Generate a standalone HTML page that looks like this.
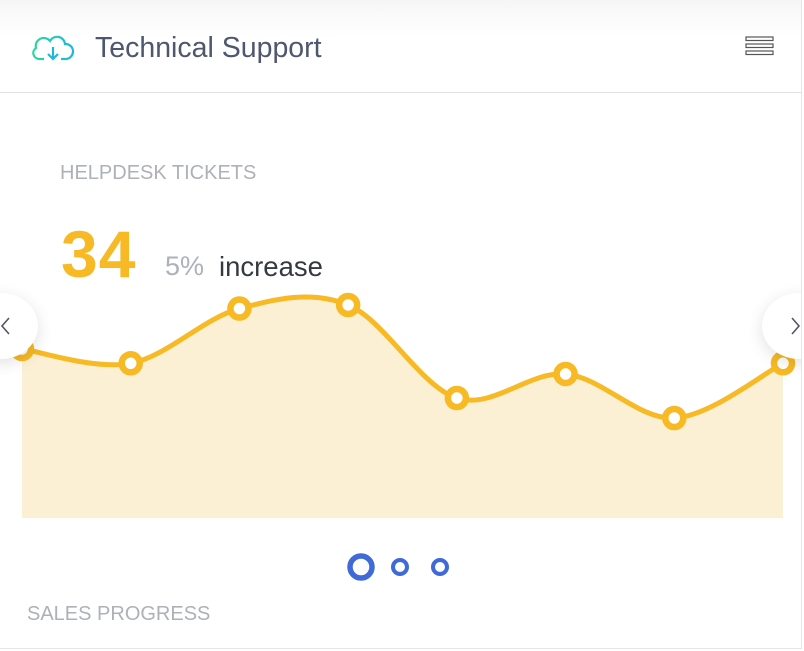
<!DOCTYPE html>
<html><head><meta charset="utf-8"><style>
body{margin:0;width:804px;height:651px;overflow:hidden;background:#fff;font-family:"Liberation Sans",sans-serif;position:relative}
.card{position:absolute;left:0;top:0;width:801px;height:648px;border-right:1px solid #e5e5ea;border-bottom:1px solid #e5e5ea;overflow:hidden;background:#fff}
.header{position:absolute;left:0;top:0;width:801px;height:92px;border-bottom:1px solid #dfe0ea;background:linear-gradient(#f6f6f6,#fff 40%)}
.title{position:absolute;left:95px;top:32px;font-size:28.5px;color:#4e5670}
.lbl{position:absolute;color:#adb1b8;font-size:20px}
.big{position:absolute;left:61px;top:216px;font-size:66px;font-weight:bold;color:#f7b924;letter-spacing:1px}
.nav{position:absolute;top:293px;width:74px;height:66px;border-radius:50%;background:#fff;box-shadow:0 4px 16px rgba(0,0,0,.12)}
</style></head><body>
<div class="card">
<div class="header">
<svg style="position:absolute;left:32px;top:33px" width="46" height="30" viewBox="0 0 46 30"><defs><linearGradient id="g" x1="0" x2="1"><stop offset="0" stop-color="#2ed6a0"/><stop offset="1" stop-color="#1bb8e0"/></linearGradient></defs><path d="M12 26 H7 A6 6 0 0 1 4 15 A8 8 0 0 1 18 8 A8 8 0 0 1 33 11 A7 7 0 0 1 34 26 H29" fill="none" stroke="url(#g)" stroke-width="2.2"/><path d="M21 14 V26 M16 21 L21 26 L26 21" fill="none" stroke="#1bb8e0" stroke-width="2.2"/></svg>
<div class="title">Technical Support</div>
<svg style="position:absolute;left:745px;top:36px" width="30" height="20"><g fill="none" stroke="#555" stroke-width="1.2"><rect x="1" y="1" width="27" height="3.5"/><rect x="1" y="8" width="27" height="3.5"/><rect x="1" y="15" width="27" height="3.5"/></g></svg>
</div>
<div class="lbl" style="left:60px;top:162px">HELPDESK TICKETS</div>
<div class="big">34</div>
<div style="position:absolute;left:165px;top:251px;font-size:27px;color:#adb1b8">5%</div>
<div style="position:absolute;left:219px;top:251px;font-size:27.5px;color:#343a40">increase</div>
<svg id="chart" style="position:absolute;left:0;top:0" width="801" height="648"></svg>
<div class="nav" style="left:-36px"><svg width="74" height="66"><path d="M45 25 L38 33 L45 41" fill="none" stroke="#556" stroke-width="1.6"/></svg></div>
<div class="nav" style="left:762px"><svg width="74" height="66"><path d="M30 25 L37 33 L30 41" fill="none" stroke="#556" stroke-width="1.6"/></svg></div>
<svg style="position:absolute;left:340px;top:550px" width="120" height="34">
<circle cx="21" cy="17" r="11" fill="#fff" stroke="#3f6ad8" stroke-width="5.5"/>
<circle cx="60" cy="17" r="7" fill="#fff" stroke="#3f6ad8" stroke-width="4"/>
<circle cx="100" cy="17" r="7" fill="#fff" stroke="#3f6ad8" stroke-width="4"/>
</svg>
<div class="lbl" style="left:27px;top:603px">SALES PROGRESS</div>
</div>
<script>
const categories=["1","2","3","4","5","6","7","8"];
const values=[71,65,88,89.5,50.4,60.5,42,65];
const X0=22,X1=783,Y0=518,Y1=280,VMAX=100;
function xs(i){return X0+i*(X1-X0)/(categories.length-1);}
function ys(v){return Y0-v/VMAX*(Y0-Y1);}
const ns="http://www.w3.org/2000/svg";
const svg=document.getElementById('chart');
const pts=values.map((v,i)=>[xs(i),ys(v)]);
let d="M"+pts[0][0]+","+pts[0][1];
for(let i=0;i<pts.length-1;i++){
 const p0=pts[Math.max(0,i-1)],p1=pts[i],p2=pts[i+1],p3=pts[Math.min(pts.length-1,i+2)];
 const t=6;
 const c1=[p1[0]+(p2[0]-p0[0])/t,p1[1]+(p2[1]-p0[1])/t];
 const c2=[p2[0]-(p3[0]-p1[0])/t,p2[1]-(p3[1]-p1[1])/t];
 d+=" C"+c1+" "+c2+" "+p2;
}
const area=document.createElementNS(ns,'path');


area.setAttribute('d',d+" L"+X1+","+Y0+" L"+X0+","+Y0+" Z");
area.setAttribute('fill','#fbf0d3');
svg.appendChild(area);
const line=document.createElementNS(ns,'path');


line.setAttribute('d',d);
line.setAttribute('fill','none');line.setAttribute('stroke','#f7b924');line.setAttribute('stroke-width','5');
svg.appendChild(line);
pts.forEach((p,i)=>{
 const c=document.createElementNS(ns,'circle');
 
 
 c.setAttribute('cx',p[0]);c.setAttribute('cy',p[1]);c.setAttribute('r','9');
 c.setAttribute('fill','#fff');c.setAttribute('stroke','#f7b924');c.setAttribute('stroke-width','6.5');
 svg.appendChild(c);
});
</script>
</body></html>
